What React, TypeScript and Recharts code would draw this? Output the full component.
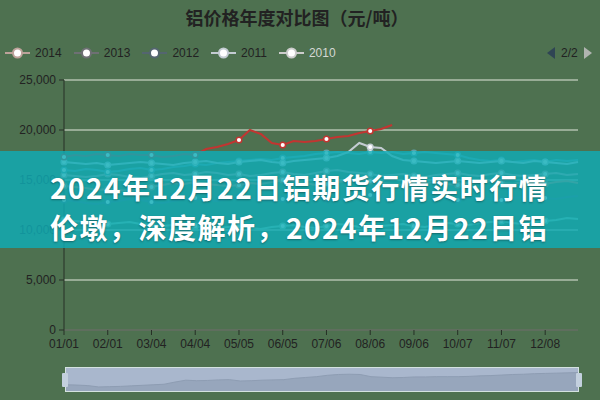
import React from 'react';
import { LineChart, Line, XAxis, YAxis, CartesianGrid, AreaChart, Area } from 'recharts';

const dates = [
  '01/01', '01/08', '01/15', '01/22', '02/01', '02/08', '02/19', '02/26',
  '03/04', '03/11', '03/18', '03/25', '04/04', '04/11', '04/18', '04/25',
  '05/05', '05/12', '05/19', '05/26', '06/05', '06/12', '06/19', '06/26',
  '07/06', '07/13', '07/20', '07/27', '08/06', '08/13', '08/20', '08/27',
  '09/06', '09/13', '09/20', '09/27', '10/07', '10/14', '10/21', '10/28',
  '11/07', '11/14', '11/21', '11/28', '12/08', '12/15', '12/22', '12/29',
];

const s2021 = [
  17300, 17500, 17400, 17600, 17500, 17400, 17600, 17500, 17500, 17300, 17400, 17600,
  17500, 18100, 18300, 18600, 19000, 20000, 19600, 18700, 18500, 18900, 18800, 18900,
  19100, 19300, 19400, 19700, 19900, 20100, 20500, null, null, null, null, null,
  null, null, null, null, null, null, null, null, null, null, null, null,
];
const s2019 = [
  16000, 15900, 16100, 16000, 15800, 15900, 16100, 16200, 16000, 16100, 16300, 16400,
  16600, 16500, 16700, 16800, 16900, 17000, 17100, 17000, 17200, 17300, 17400, 17600,
  17700, 17800, 17700, 17600, 17800, 17700, 17800, 17600, 17700, 17800, 17700, 17600,
  17500, 17200, 17000, 16900, 17000, 16800, 16900, 17000, 16800, 17000, 16900, 17000,
];
const s2018 = [
  14400, 14300, 14200, 14000, 14100, 14000, 13900, 14100, 14300, 14500, 14700, 14600,
  14800, 14600, 14500, 14400, 14500, 14700, 14600, 14800, 15000, 14900, 14700, 14500,
  14600, 14800, 14900, 15000, 14900, 14700, 14600, 14500, 14600, 14700, 14800, 14600,
  14500, 14700, 14800, 14900, 14700, 14600, 14800, 14700, 14600, 14800, 14900, 14700,
];
const s2017 = [
  11000, 10900, 10800, 10700, 10600, 10700, 10800, 10600, 10500, 10400, 10500, 10600,
  10400, 10300, 10200, 10300, 10400, 10200, 10100, 10300, 10400, 10500, 10300, 10200,
  10400, 10600, 10500, 10300, 10200, 10400, 10500, 10600, 10400, 10300, 10500, 10700,
  10600, 10500, 10700, 10800, 10900, 10700, 10600, 10800, 10900, 11000, 11200, 11100,
];
const s2014 = [
  15500, 15400, 15300, 15400, 15600, 15500, 15300, 15200, 15400, 15600, 15700, 15500,
  15600, 15800, 15700, 15500, 15600, 15400, 15500, 15700, 15800, 15600, 15500, 15700,
  15900, 16000, 15800, 15700, 15600, 15400, 15500, 15600, 15400, 15300, 15500, 15600,
  15700, 15500, 15400, 15600, 15700, 15500, 15400, 15500, 15600, 15700, 15500, 15600,
];
const s2012 = [
  13000, 12900, 12700, 12600, 12800, 12900, 13100, 13000, 12800, 12700, 12900, 13100,
  13200, 13000, 12900, 13100, 13300, 13200, 13000, 12900, 13100, 13200, 13400, 13300,
  13100, 13000, 13200, 13400, 13500, 13300, 13200, 13100, 13300, 13400, 13200, 13100,
  13000, 13200, 13300, 13100, 13000, 13200, 13300, 13400, 13200, 13100, 13300, 13400,
];
const s2011 = [
  16800, 16700, 16600, 16700, 16500, 16600, 16700, 16800, 16700, 16600, 16500, 16700,
  16800, 16900, 16700, 16600, 16800, 16900, 17000, 16800, 16700, 16900, 17000, 17100,
  17200, 17400, 17800, 18700, 18300, 18200, 17400, 17000, 16900, 16800, 16700, 16800,
  16900, 16800, 16700, 16800, 16900, 16800, 16700, 16900, 16800, 16700, 16600, 16800,
];

const sliderValues = [
  12300, 12200, 12000, 11500, 11600, 11700, 11900, 12100, 12300, 12500, 13300, 14000,
  13800, 13900, 14100, 14200, 13700, 13800, 14000, 14100, 14200, 14700, 15000, 15300,
  15800, 16100, 16200, 16100, 15300, 15100, 14900, 15000, 15200, 15200, 15300, 15300,
  15300, 15400, 15600, 15700, 15900, 16100, 16200, 16400, 16500, 16600, 16700, 16800,
];

const yTicks = [0, 5000, 10000, 15000, 20000, 25000];

const series = [
  { key: 's2017', color: '#91c7ae', values: s2017 },
  { key: 's2012', color: '#546570', values: s2012 },
  { key: 's2018', color: '#d48265', values: s2018 },
  { key: 's2014', color: '#bda29a', values: s2014 },
  { key: 's2019', color: '#61a0a8', values: s2019 },
  { key: 's2011', color: '#c4ccd3', values: s2011 },
  { key: 's2021', color: '#c23531', values: s2021 },
];

const legendItems = [
  { name: '2014', color: '#bda29a', on: true },
  { name: '2013', color: '#6e7074', on: true },
  { name: '2012', color: '#546570', on: true },
  { name: '2011', color: '#c4ccd3', on: true },
  { name: '2010', color: '#cccccc', on: false },
];

const data = dates.map((d, i) => {
  const row: any = { date: d, slider: sliderValues[i] };
  series.forEach((s) => { row[s.key] = s.values[i]; });
  return row;
});

const latin = 'Liberation Sans, Arial, sans-serif';
const tickFont = { fontSize: 12, fill: '#222', fontFamily: latin };

function makeDot(color: string) {
  return (p: any) => {
    if (p.index % 4 !== 0 || p.value == null || p.cy == null) return <g key={`d-${p.index}`} />;
    return <circle key={`d-${p.index}`} cx={p.cx} cy={p.cy} r={2.8} fill="#fff" stroke={color} strokeWidth={1.5} />;
  };
}

function LegendRow() {
  return (
    <div style={{ position: 'absolute', left: 5, top: 45, height: 16, display: 'flex', alignItems: 'center' }}>
      {legendItems.map((it) => (
        <div key={it.name} style={{ display: 'flex', alignItems: 'center', marginRight: 12, flexShrink: 0 }}>
          <svg width={25} height={14} style={{ flexShrink: 0 }}>
            <line x1={0} y1={7} x2={25} y2={7} stroke={it.color} strokeWidth={2} />
            <circle cx={12.5} cy={7} r={4.5} fill="#fff" stroke={it.color} strokeWidth={2} />
          </svg>
          <span style={{ marginLeft: 5, fontSize: 12, color: it.on ? '#222' : '#d4d8d4', fontFamily: latin }}>
            {it.name}
          </span>
        </div>
      ))}
    </div>
  );
}

function Pager() {
  return (
    <div style={{ position: 'absolute', left: 545, top: 45, height: 16, display: 'flex', alignItems: 'center' }}>
      <svg width={11} height={14}>
        <path d="M10,1 L2,7 L10,13 Z" fill="#2f4554" />
      </svg>
      <span style={{ margin: '0 5px', fontSize: 12, color: '#222', fontFamily: latin }}>2/2</span>
      <svg width={11} height={14}>
        <path d="M1,1 L9,7 L1,13 Z" fill="#b0b4b0" />
      </svg>
    </div>
  );
}

export default function App() {
  return (
    <div style={{ position: 'absolute', left: 0, top: 0, width: 600, height: 400, background: '#4e7150', overflow: 'hidden' }}>
      <div style={{ position: 'absolute', top: 4, left: 0, width: 594, textAlign: 'center', fontSize: 18, lineHeight: '26px', fontWeight: 'bold', color: '#222', fontFamily: '"Noto Sans CJK SC", sans-serif' }}>
        铝价格年度对比图（元/吨）
      </div>
      <LegendRow />
      <Pager />

      <div style={{ position: 'absolute', left: 0, top: 0 }}>
        <LineChart width={600} height={400} data={data} margin={{ top: 80, right: 22, bottom: 40, left: 4 }}>
          <CartesianGrid vertical={false} stroke="#e2e8dc" />
          <XAxis
            dataKey="date"
            interval={3}
            tick={tickFont}
            tickSize={5}
            tickMargin={4}
            stroke="#263026"
          />
          <YAxis
            domain={[0, 25000]}
            ticks={yTicks}
            width={60}
            tick={tickFont}
            tickSize={5}
            tickMargin={3}
            stroke="#263026"
            tickFormatter={(v: number) => v.toLocaleString('en-US')}
          />
          {series.map((s) => (
            <Line
              key={s.key}
              type="linear"
              dataKey={s.key}
              stroke={s.color}
              strokeWidth={2}
              dot={makeDot(s.color)}
              activeDot={false}
              isAnimationActive={false}
            />
          ))}
        </LineChart>
      </div>

      <div style={{ position: 'absolute', left: 0, top: 151, width: 600, height: 97, background: 'rgba(15,172,182,0.82)' }}>
        <div style={{ paddingTop: 16, paddingLeft: 50, color: '#fff', fontWeight: 'bold', fontSize: 28, lineHeight: '40px', letterSpacing: 1.5, whiteSpace: 'nowrap', fontFamily: '"Noto Sans CJK SC", sans-serif', textShadow: '0 1px 2px rgba(0,0,0,0.35)' }}>
          <div>2024年12月22日铝期货行情实时行情</div>
          <div>伦墩，深度解析，2024年12月22日铝</div>
        </div>
      </div>

      <div style={{ position: 'absolute', left: 65, top: 367, width: 514, height: 25, boxSizing: 'border-box', border: '1px solid #d4e2e0', background: '#a9b7cd' }}>
        <AreaChart width={512} height={23} data={data} margin={{ top: 0, right: 0, bottom: 0, left: 0 }}>
          <XAxis dataKey="date" hide />
          <YAxis domain={[10000, 18500]} hide />
          <Area type="linear" dataKey="slider" stroke="#8e9db3" strokeWidth={1} fill="#97a6bc" fillOpacity={1} isAnimationActive={false} />
        </AreaChart>
      </div>
      <div style={{ position: 'absolute', left: 62, top: 373, width: 6, height: 14, background: '#c3d0de', borderRadius: 1 }} />
      <div style={{ position: 'absolute', left: 576, top: 373, width: 6, height: 14, background: '#c3d0de', borderRadius: 1 }} />
    </div>
  );
}
